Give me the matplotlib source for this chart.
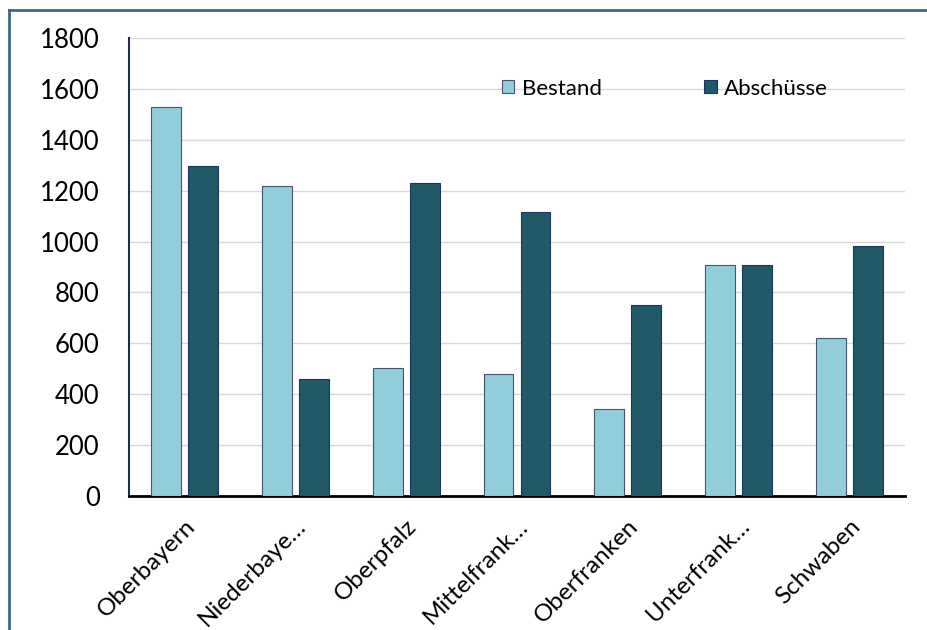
import matplotlib.pyplot as plt
import numpy as np
from matplotlib.lines import Line2D

regionen = ["Oberbayern", "Niederbaye…", "Oberpfalz", "Mittelfrank…",
            "Oberfranken", "Unterfrank…", "Schwaben"]
bestand = [1530, 1218, 505, 478, 343, 908, 620]
abschuesse = [1297, 460, 1230, 1117, 750, 907, 982]
yticks = [0, 200, 400, 600, 800, 1000, 1200, 1400, 1600, 1800]

plt.rcParams['font.family'] = ['Lato', 'DejaVu Sans']

fig = plt.figure(figsize=(9.27, 6.3), dpi=100)
ax = fig.add_axes([129 / 927, 1 - 496 / 630, 776 / 927, 458 / 630])

x = np.arange(len(regionen))
breite = 0.27
ax.bar(x - 0.167, bestand, breite, color='#92cddc', edgecolor='#44546a',
       linewidth=0.8, label='Bestand', zorder=3)
ax.bar(x + 0.167, abschuesse, breite, color='#215968', edgecolor='#17375e',
       linewidth=0.8, label='Abschüsse', zorder=3)

ax.set_xlim(-0.5, len(regionen) - 0.5)
ax.set_ylim(0, 1800)
ax.set_yticks(yticks)
ax.set_yticklabels([str(v) for v in yticks], fontsize=18.5)
ax.set_xticks(x)
ax.set_xticklabels(regionen, rotation=45, ha='right', rotation_mode='anchor',
                   fontsize=17.5)
ax.tick_params(axis='y', length=0, pad=21)
ax.tick_params(axis='x', length=0, pad=14)

ax.grid(axis='y', color='#d9d9d9', linewidth=1, zorder=0)
for s in ['top', 'right']:
    ax.spines[s].set_visible(False)
ax.spines['left'].set_color('#1f2d4d')
ax.spines['left'].set_linewidth(1.5)
ax.spines['bottom'].set_color('black')
ax.spines['bottom'].set_linewidth(2)

leg = ax.legend(loc='upper left', bbox_to_anchor=(0.455, 0.955), ncol=2,
                frameon=False, fontsize=16, handlelength=0.55, handleheight=0.55,
                handletextpad=0.35, columnspacing=4.6)

# Rahmen um das Diagramm (oben und links)
fig.add_artist(Line2D([9 / 927, 1], [1 - 10 / 630, 1 - 10 / 630],
                      transform=fig.transFigure, color='#3d6a82', linewidth=2))
fig.add_artist(Line2D([9 / 927, 9 / 927], [1 - 10 / 630, 0],
                      transform=fig.transFigure, color='#3d6a82', linewidth=2))

fig.savefig('out.png', dpi=100)
